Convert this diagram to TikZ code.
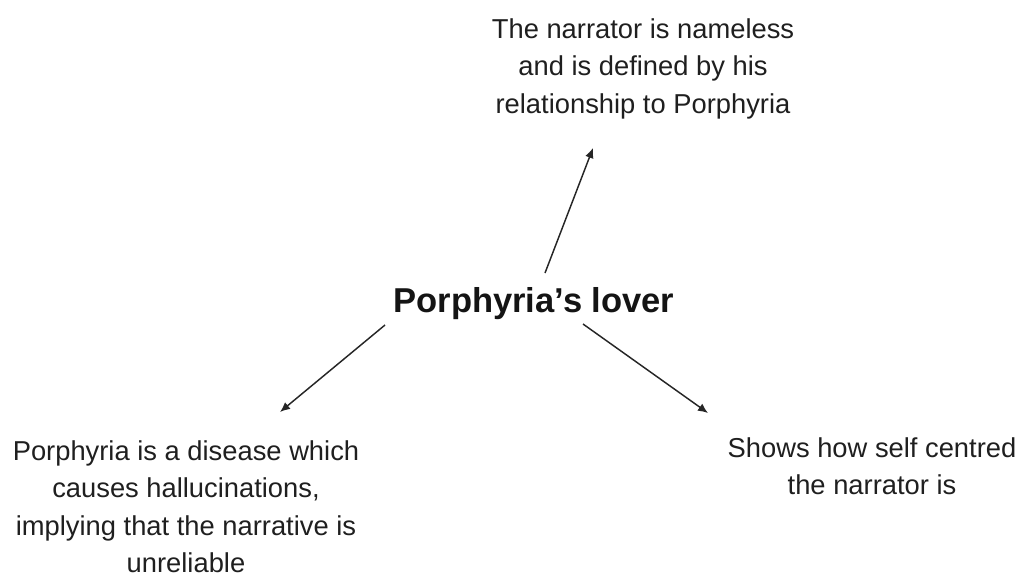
\documentclass[tikz,border=0pt]{standalone}
\usepackage{fontspec}
\setmainfont{Liberation Sans}
\usepackage{tikz}
\usetikzlibrary{arrows.meta}

\begin{document}
\begin{tikzpicture} [ x=0.75pt, y=-0.75pt,
    note/.style={anchor=north, inner sep=0pt, align=center, text=black!88,
        font=\fontsize{20.5}{28.1}\selectfont},
    title/.style={anchor=north, inner sep=0pt, text=black!92,
        font=\fontsize{25.9}{30}\selectfont\bfseries},
    link/.style={draw=black!85, line width=1.1pt, -{Latex[length=7.5pt,width=6.5pt]}},
    ]
    \useasboundingbox (0,0) rectangle (1020,575);

    \node[title] (lover) at (534,287) {Porphyria’s lover};

    \node[note] (narr) at (643,18) {The narrator is nameless\\
        and is defined by his\\ relationship to Porphyria};
    \node[note] (disease) at (186,440) {Porphyria is a disease which\\
        causes hallucinations,\\ implying that the narrative is\\ unreliable};
    \node[note] (self) at (872,437) {Shows how self centred\\ the narrator is};

    % spokes out of the title
    \draw[link] ([shift={(11,-14)}]lover.north) -- ([shift={(-50,130)}]narr.north);
    \draw[link] ([shift={(-149,38)}]lover.north) -- ([shift={(94,-28)}]disease.north);
    \draw[link] ([shift={(49,37)}]lover.north) -- ([shift={(-164,-24)}]self.north);

\end{tikzpicture}
\end{document}
